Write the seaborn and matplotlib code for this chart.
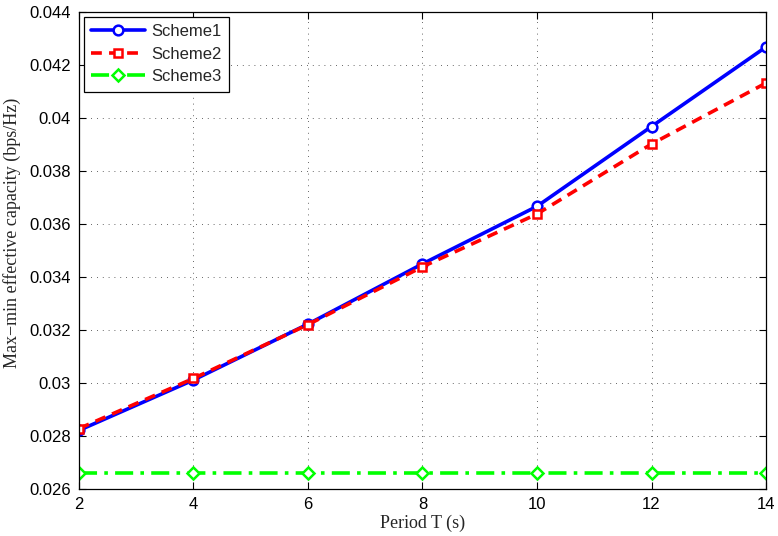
import matplotlib
matplotlib.use("Agg")
import matplotlib.pyplot as plt
import seaborn as sns
import pandas as pd

periods = [2, 4, 6, 8, 10, 12, 14]
scheme1 = [0.02821, 0.03011, 0.03222, 0.03449, 0.03666, 0.03967, 0.04267]
scheme2 = [0.02828, 0.03017, 0.03220, 0.03438, 0.03637, 0.03901, 0.04131]
scheme3 = [0.02660, 0.02660, 0.02660, 0.02660, 0.02660, 0.02660, 0.02660]
series_names = ["Scheme1", "Scheme2", "Scheme3"]
x_ticks = [2, 4, 6, 8, 10, 12, 14]
y_ticks = [0.026, 0.028, 0.03, 0.032, 0.034, 0.036, 0.038, 0.04, 0.042, 0.044]
y_tick_labels = ["0.026", "0.028", "0.03", "0.032", "0.034", "0.036", "0.038", "0.04", "0.042", "0.044"]

sns.set_theme(style="white")
plt.rcParams['font.family'] = ['Liberation Sans', 'DejaVu Sans']

df = pd.DataFrame({
    "T": periods * 3,
    "val": scheme1 + scheme2 + scheme3,
    "scheme": [series_names[0]] * 7 + [series_names[1]] * 7 + [series_names[2]] * 7,
})

fig = plt.figure(figsize=(7.78, 5.36), dpi=100)
ax = fig.add_axes([0.1015, 0.0877, 0.8831, 0.8905])

styles = {
    "Scheme1": dict(color=(0, 0, 1), marker="o", ls="-", ms=7),
    "Scheme2": dict(color=(1, 0, 0), marker="s", ls=(0, (3, 2)), ms=6.2),
    "Scheme3": dict(color=(0, 1, 0), marker="D", ls=(0, (5, 2, 1, 2)), ms=6.5),
}
for name in series_names:
    st = styles[name]
    sub = df[df["scheme"] == name]
    sns.lineplot(data=sub, x="T", y="val", ax=ax, color=st["color"], lw=2.6,
                 linestyle=st["ls"], marker=st["marker"], markersize=st["ms"],
                 markerfacecolor="white", markeredgecolor=st["color"],
                 markeredgewidth=1.8, label=name, legend=False)

ax.set_xlim(2, 14)
ax.set_ylim(0.026, 0.044)
ax.set_xticks(x_ticks)
ax.set_xticklabels([str(t) for t in x_ticks])
ax.set_yticks(y_ticks)
ax.set_yticklabels(y_tick_labels)
ax.tick_params(direction="in", length=5, width=0.8, labelsize=12, colors="black",
               top=True, right=True, bottom=True, left=True, pad=6)
ax.grid(True, linestyle=(0, (1, 6)), color="black", linewidth=0.6, alpha=0.8)
for sp in ax.spines.values():
    sp.set_color("black")
    sp.set_linewidth(0.9)

ax.set_xlabel("Period T (s)", fontsize=13, family=["Liberation Serif"], labelpad=2)
ax.set_ylabel("Max\u2212min effective capacity (bps/Hz)", fontsize=13,
              family=["Liberation Serif"])
ax.yaxis.set_label_coords(-0.084, 0.536)

leg = ax.legend(loc="upper left", fontsize=12, frameon=True, fancybox=False,
                edgecolor="black", framealpha=1, handlelength=3.2,
                borderaxespad=0.3, borderpad=0.45, labelspacing=0.45, handletextpad=0.4)
leg.get_frame().set_linewidth(0.9)

fig.savefig("out.png", dpi=100)
